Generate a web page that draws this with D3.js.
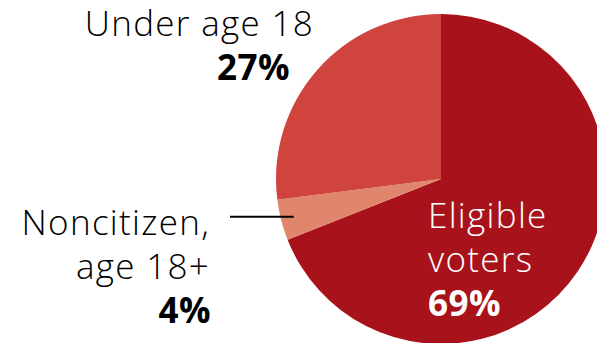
<!DOCTYPE html>
<html>
<head>
<meta charset="utf-8">
<script src="https://cdn.jsdelivr.net/npm/d3@7"></script>
<style>
  body { margin: 0; background: #fff; }
  text { font-family: "Open Sans", Lato, sans-serif; }
</style>
</head>
<body>
<div id="chart"></div>
<script>
var categories = ["Eligible voters", "Noncitizen, age 18+", "Under age 18"];
var shares = [69, 4, 27];
var colors = ["#a8131b", "#df866c", "#d0443e"];

var w = 597;
var h = 343;

var svg = d3.select("#chart").append("svg")
    .attr("width", w)
    .attr("height", h);

var cx = 441, cy = 179, r = 165;

var pie = d3.pie().sort(null).value(function(d) { return d; });
var arc = d3.arc().innerRadius(0).outerRadius(r);

var g = svg.append("g").attr("transform", "translate(" + cx + "," + cy + ")");

g.selectAll("path")
  .data(pie(shares))
  .enter()
  .append("path")
  .attr("d", arc)
  .attr("fill", function(d, i) { return colors[i]; });

// leader line for the small slice
var small = pie(shares)[1];
var mid = (small.startAngle + small.endAngle) / 2;
var ex = cx + Math.sin(mid) * (r - 13), ey = cy - Math.cos(mid) * (r - 13);
svg.append("line")
  .attr("x1", 230).attr("y1", ey)
  .attr("x2", ex).attr("y2", ey)
  .attr("stroke", "#000").attr("stroke-width", 2);

function label(lines, pct, x, px, y, anchor, fill) {
  var t = svg.append("text")
    .attr("text-anchor", anchor)
    .attr("fill", fill)
    .style("font-size", "35px")
    .style("font-weight", 300)
    .style("letter-spacing", "1.3px");
  lines.forEach(function(s, i) {
    t.append("tspan").attr("x", x).attr("y", y + i * 44).text(s);
  });
  t.append("tspan").attr("x", px).attr("y", y + lines.length * 44)
    .style("font-weight", "bold").style("letter-spacing", "0.5px").text(pct + "%");
}

label(["Under age 18"], shares[2], 314, 290, 36, "end", "#000");
label(["Noncitizen,", "age 18+"], shares[1], 210, 211, 235, "end", "#000");
label(["Eligible", "voters"], shares[0], 428, 428, 228, "start", "#fff");
</script>
</body>
</html>
